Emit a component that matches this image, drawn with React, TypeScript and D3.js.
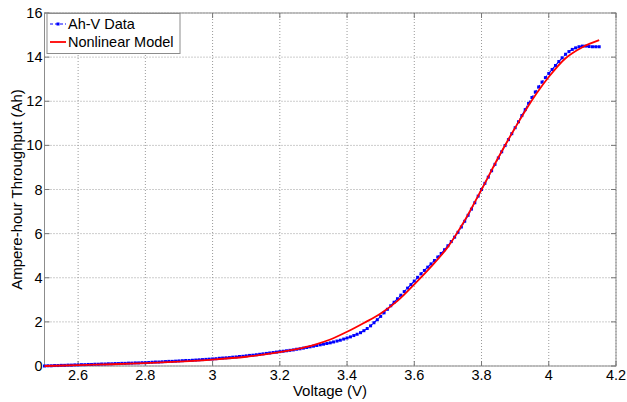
import React from "react";
import * as d3 from "d3";

const voltage: number[] = [
  2.5, 2.51, 2.52, 2.53, 2.54, 2.55, 2.56, 2.57, 2.58, 2.59,
  2.6, 2.61, 2.62, 2.63, 2.64, 2.65, 2.66, 2.67, 2.68, 2.69,
  2.7, 2.71, 2.72, 2.73, 2.74, 2.75, 2.76, 2.77, 2.78, 2.79,
  2.8, 2.81, 2.82, 2.83, 2.84, 2.85, 2.86, 2.87, 2.88, 2.89,
  2.9, 2.91, 2.92, 2.93, 2.94, 2.95, 2.96, 2.97, 2.98, 2.99,
  3.0, 3.01, 3.02, 3.03, 3.04, 3.05, 3.06, 3.07, 3.08, 3.09,
  3.1, 3.11, 3.12, 3.13, 3.14, 3.15, 3.16, 3.17, 3.18, 3.19,
  3.2, 3.21, 3.22, 3.23, 3.24, 3.25, 3.26, 3.27, 3.28, 3.29,
  3.3, 3.31, 3.32, 3.33, 3.34, 3.35, 3.36, 3.37, 3.38, 3.39,
  3.4, 3.41, 3.42, 3.43, 3.44, 3.45, 3.46, 3.47, 3.48, 3.49,
  3.5, 3.51, 3.52, 3.53, 3.54, 3.55, 3.56, 3.57, 3.58, 3.59,
  3.6, 3.61, 3.62, 3.63, 3.64, 3.65, 3.66, 3.67, 3.68, 3.69,
  3.7, 3.71, 3.72, 3.73, 3.74, 3.75, 3.76, 3.77, 3.78, 3.79,
  3.8, 3.81, 3.82, 3.83, 3.84, 3.85, 3.86, 3.87, 3.88, 3.89,
  3.9, 3.91, 3.92, 3.93, 3.94, 3.95, 3.96, 3.97, 3.98, 3.99,
  4.0, 4.01, 4.02, 4.03, 4.04, 4.05, 4.06, 4.07, 4.08, 4.09,
  4.1, 4.11, 4.12, 4.13, 4.14, 4.15,
];

const ahData: number[] = [
  0.0, 0.01, 0.01, 0.02, 0.02, 0.03, 0.03, 0.04, 0.04, 0.05,
  0.05, 0.06, 0.06, 0.07, 0.07, 0.08, 0.08, 0.09, 0.09, 0.1,
  0.1, 0.11, 0.11, 0.12, 0.12, 0.13, 0.13, 0.14, 0.14, 0.15,
  0.15, 0.16, 0.17, 0.18, 0.18, 0.19, 0.2, 0.21, 0.21, 0.22,
  0.23, 0.24, 0.25, 0.25, 0.26, 0.27, 0.28, 0.29, 0.3, 0.31,
  0.32, 0.33, 0.35, 0.36, 0.37, 0.38, 0.4, 0.41, 0.43, 0.44,
  0.46, 0.48, 0.49, 0.51, 0.53, 0.55, 0.57, 0.59, 0.61, 0.63,
  0.65, 0.67, 0.69, 0.71, 0.73, 0.76, 0.78, 0.81, 0.84, 0.87,
  0.9, 0.93, 0.96, 0.99, 1.02, 1.05, 1.09, 1.13, 1.17, 1.22,
  1.27, 1.32, 1.38, 1.44, 1.51, 1.6, 1.7, 1.82, 1.96, 2.1,
  2.25, 2.41, 2.57, 2.73, 2.89, 3.05, 3.21, 3.37, 3.53, 3.69,
  3.85, 4.02, 4.18, 4.33, 4.48, 4.63, 4.78, 4.94, 5.1, 5.27,
  5.45, 5.64, 5.84, 6.06, 6.3, 6.56, 6.83, 7.11, 7.4, 7.7,
  8.0, 8.28, 8.56, 8.85, 9.14, 9.43, 9.71, 9.99, 10.26, 10.53,
  10.8, 11.07, 11.35, 11.62, 11.9, 12.17, 12.42, 12.65, 12.87, 13.07,
  13.26, 13.44, 13.62, 13.8, 13.97, 14.13, 14.25, 14.35, 14.42, 14.47,
  14.5, 14.5, 14.48, 14.47, 14.47, 14.47,
];

const modelVoltage: number[] = [
  2.5, 2.6, 2.7, 2.8, 2.9, 3.0, 3.1, 3.2, 3.25, 3.3, 3.35, 3.4, 3.45,
  3.5, 3.55, 3.6, 3.65, 3.7, 3.75, 3.8, 3.85, 3.9, 3.95, 4.0, 4.05, 4.1, 4.15,
];
const modelAh: number[] = [
  0.0, 0.04, 0.08, 0.13, 0.2, 0.29, 0.42, 0.63, 0.77, 0.95, 1.2, 1.55, 1.95,
  2.38, 2.95, 3.7, 4.5, 5.4, 6.6, 8.0, 9.45, 10.8, 12.05, 13.1, 13.95, 14.45, 14.77,
];

const xTicks: number[] = [2.6, 2.8, 3, 3.2, 3.4, 3.6, 3.8, 4, 4.2];
const yTicks: number[] = [0, 2, 4, 6, 8, 10, 12, 14, 16];
const seriesNames: string[] = ["Ah-V Data", "Nonlinear Model"];

const W = 627;
const H = 402;
const left = 44.5;
const right = 616;
const top = 13;
const bottom = 366;
const FONT = "Liberation Sans, Arial, sans-serif";

export default function App() {
  const x = d3.scaleLinear().domain([2.5, 4.2]).range([left, right]);
  const y = d3.scaleLinear().domain([0, 16]).range([bottom, top]);

  const dataPts = voltage.map((v, i) => [v, ahData[i]] as [number, number]);
  const modelPts = modelVoltage.map((v, i) => [v, modelAh[i]] as [number, number]);

  const line = d3
    .line<[number, number]>()
    .x((d) => x(d[0]))
    .y((d) => y(d[1]));
  const smooth = d3
    .line<[number, number]>()
    .x((d) => x(d[0]))
    .y((d) => y(d[1]))
    .curve(d3.curveCatmullRom);

  return (
    <svg
      width={W}
      height={H}
      style={{ position: "absolute", left: 0, top: 0, background: "#fff" }}
      fontFamily={FONT}
    >
      <rect x={0} y={0} width={W} height={H} fill="#fff" />
      {xTicks.map((t) => (
        <line
          key={"gx" + t}
          x1={x(t)}
          x2={x(t)}
          y1={top}
          y2={bottom}
          stroke="#9a9a9a"
          strokeWidth={1}
          strokeDasharray="1,2"
        />
      ))}
      {yTicks.map((t) => (
        <line
          key={"gy" + t}
          x1={left}
          x2={right}
          y1={y(t)}
          y2={y(t)}
          stroke="#9a9a9a"
          strokeWidth={1}
          strokeDasharray="1,2"
        />
      ))}
      <rect
        x={left}
        y={top}
        width={right - left}
        height={bottom - top}
        fill="none"
        stroke="#8c8c8c"
        strokeWidth={1}
      />
      {xTicks.map((t) => (
        <g key={"tx" + t}>
          <line x1={x(t)} x2={x(t)} y1={bottom} y2={bottom - 5} stroke="#777" />
          <line x1={x(t)} x2={x(t)} y1={top} y2={top + 5} stroke="#777" />
          <text x={x(t)} y={380} textAnchor="middle" fontSize={14.5} fill="#000">
            {String(t)}
          </text>
        </g>
      ))}
      {yTicks.map((t) => (
        <g key={"ty" + t}>
          <line x1={left} x2={left + 5} y1={y(t)} y2={y(t)} stroke="#777" />
          <line x1={right} x2={right - 5} y1={y(t)} y2={y(t)} stroke="#777" />
          <text x={left - 2} y={y(t) + 5} textAnchor="end" fontSize={14.5} fill="#000">
            {String(t)}
          </text>
        </g>
      ))}
      <path
        d={line(dataPts) || ""}
        fill="none"
        stroke="#0000ff"
        strokeWidth={1.2}
        strokeDasharray="4,2"
      />
      {dataPts.map((d, i) => (
        <rect
          key={"m" + i}
          x={x(d[0]) - 1.5}
          y={y(d[1]) - 1.5}
          width={3}
          height={3}
          fill="#0000ff"
        />
      ))}
      <path d={smooth(modelPts) || ""} fill="none" stroke="#ff0000" strokeWidth={1.8} />
      <rect x={47} y={13.5} width={133} height={40} fill="#fff" stroke="#8c8c8c" />
      <line x1={50} x2={66} y1={24} y2={24} stroke="#0000ff" strokeWidth={1.2} strokeDasharray="3,2" />
      <rect x={56.5} y={22.5} width={3} height={3} fill="#0000ff" />
      <text x={68} y={29} fontSize={14.5} fill="#000">
        {seriesNames[0]}
      </text>
      <line x1={50} x2={66} y1={42} y2={42} stroke="#ff0000" strokeWidth={1.8} />
      <text x={68} y={47} fontSize={14.5} fill="#000">
        {seriesNames[1]}
      </text>
      <text x={330} y={396} textAnchor="middle" fontSize={15} fill="#000">
        Voltage (V)
      </text>
      <text
        transform={`translate(22,${(top + bottom) / 2}) rotate(-90)`}
        textAnchor="middle"
        fontSize={15}
        fill="#000"
      >
        Ampere-hour Throughput (Ah)
      </text>
    </svg>
  );
}
